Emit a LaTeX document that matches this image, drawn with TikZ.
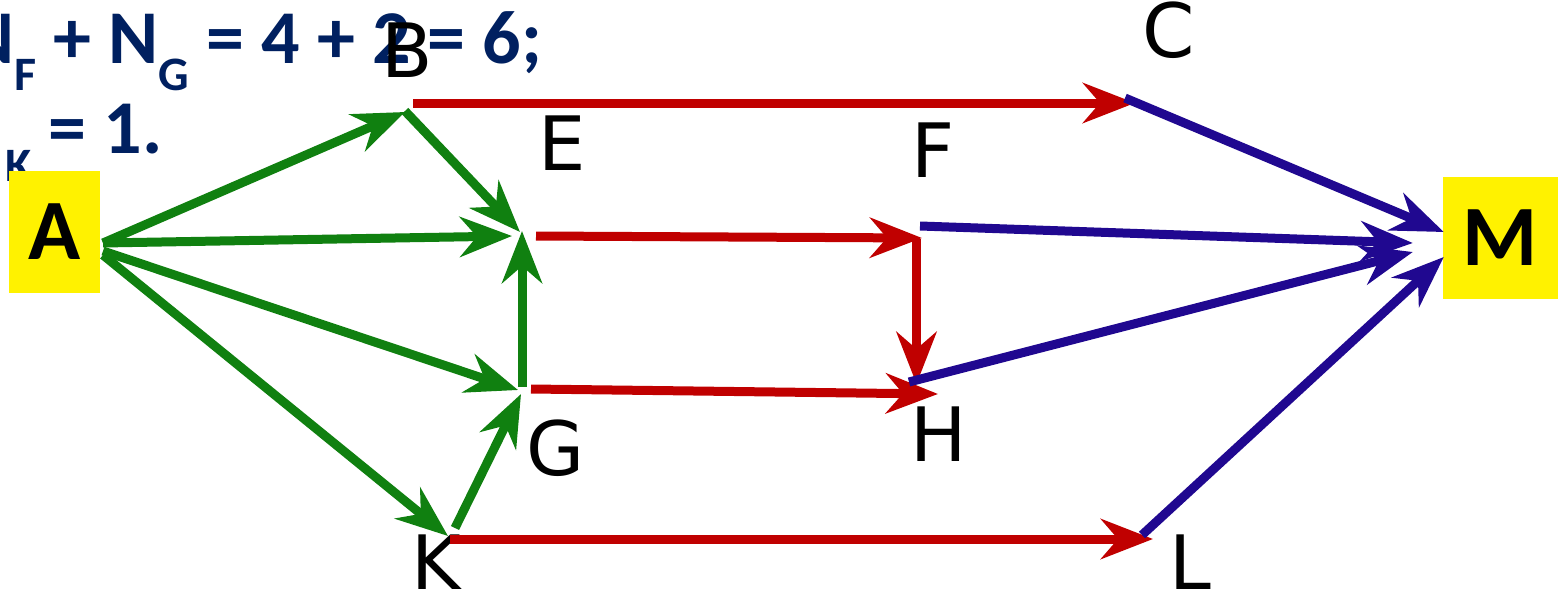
\documentclass[tikz,border=0pt]{standalone}
\usepackage{fontspec}
\newfontfamily\carl{Carlito}
\newfontfamily\dvs{DejaVu Sans}
\usetikzlibrary{arrows.meta,calc}
\definecolor{grn}{RGB}{16,128,16}
\definecolor{rd}{RGB}{192,0,0}
\definecolor{blu}{RGB}{32,8,144}
\definecolor{navy}{RGB}{0,32,96}
\newcommand\sbs[1]{\raisebox{-28pt}{\fontsize{48}{48}\selectfont #1}}
\begin{document}
\begin{tikzpicture}[x=1pt,y=-1pt,
  lbl/.style={font=\dvs\fontsize{75}{75}\selectfont, inner sep=0pt, anchor=base},
  eqtext/.style={font=\carl\bfseries\fontsize{76}{80}\selectfont, text=navy, inner sep=0pt, anchor=base west},
  termbox/.style={fill=yellow, inner sep=0pt, font=\carl\bfseries\fontsize{86}{86}\selectfont},
  arr/.style={line width=9pt, -{Stealth[length=52pt,width=40pt,inset=17pt]}},
  greenarr/.style={arr, draw=grn},
  redarr/.style={arr, draw=rd},
  bluearr/.style={arr, draw=blu}]
\useasboundingbox (0,0) rectangle (1558,589);
\begin{scope}
\clip (0,0) rectangle (1558,589);
% equations (cut off at the left edge)
\node[eqtext] (t0) at (-46,-27) {N\sbs{E}};
\node[eqtext] (t1) at (-36,63) {N\sbs{F} + N\sbs{G} = 4 + 2 = 6;};
\node[eqtext] (t2) at (-53,153) {N\kern8pt\sbs{K} = 1.};
% terminal boxes
\node[termbox, minimum width=91pt, minimum height=122pt] (A) at (54.5,232) {A};
\node[termbox, minimum width=115pt, minimum height=122pt] (M) at (1500.5,238) {M};
\end{scope}
% labels
\node[lbl] (B) at (407,77) {B};
\node[lbl] (C) at (1169,57) {C};
\node[lbl] (E) at (562,170) {E};
\node[lbl] (F) at (933,177) {F};
\node[lbl] (G) at (556,475) {G};
\node[lbl] (H) at (939,461) {H};
\node[lbl] (K) at (436,589) {K};
\node[lbl] (L) at (1190,589) {L};
% junction points
\coordinate (pa) at (103,248);
\coordinate (pb) at (407,110);
\coordinate (pc) at (1130,101);
\coordinate (pe) at (521,234);
\coordinate (pf) at (918,237);
\coordinate (pg) at (522,389);
\coordinate (ph) at (914,386);
\coordinate (pk) at (450,537);
\coordinate (pl) at (1145,536);
% green arrows
\draw[greenarr] ($(pa)+(0,-5)$) -- ($(pb)+(-2,2)$);
\draw[greenarr] ($(pa)+(0,-5)$) -- ($(pe)+(-9,2)$);
\draw[greenarr] ($(pa)+(0,3)$) -- ($(pg)+(-4,1)$);
\draw[greenarr] ($(pa)+(0,7)$) -- ($(pk)+(-2,-1)$);
\draw[greenarr] ($(pb)+(-2,1)$) -- ($(pe)+(-1,-2)$);
\draw[greenarr] ($(pg)+(0,-2)$) -- ($(pe)+(1,-3)$);
\draw[greenarr] ($(pk)+(5,-9)$) -- ($(pg)+(-1,5)$);
% red arrows
\draw[redarr] ($(pb)+(6,-7)$) -- ($(pc)+(5,2)$);
\draw[redarr] ($(pe)+(15,2)$) -- ($(pf)+(4,1)$);
\draw[redarr] ($(pf)+(-1.5,2)$) -- ($(ph)+(2.5,-2)$);
\draw[redarr] ($(pg)+(9,0)$) -- ($(ph)+(24,8)$);
\draw[redarr] ($(pk)+(0,2)$) -- ($(pl)+(8,3)$);
% blue arrows
\draw[bluearr] ($(pc)+(-5,-3)$) -- ($(M.west)+(1,-6)$);
\draw[bluearr] ($(pf)+(2,-11)$) -- ($(M.west)+(-30,5)$);
\draw[bluearr] ($(ph)+(-5,-4)$) -- ($(M.west)+(-30,14)$);
\draw[bluearr] ($(pl)+(-3,-1)$) -- ($(M.west)+(1,19)$);
\end{tikzpicture}
\end{document}
